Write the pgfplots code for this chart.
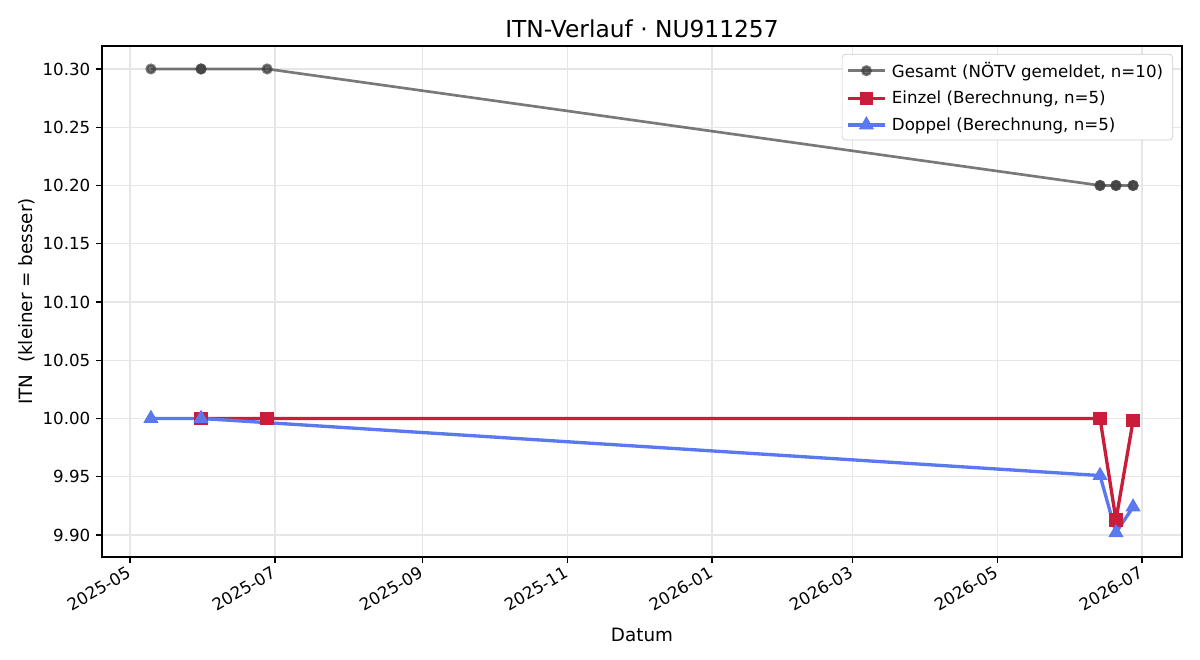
\documentclass[border=0pt]{standalone}
\usepackage{pgfplots}
\pgfplotsset{compat=1.18}
\usepackage{fontspec}
\setmainfont{DejaVu Sans}
\definecolor{gesamt}{RGB}{64,64,64}
\definecolor{einzel}{RGB}{200,30,60}
\definecolor{doppel}{RGB}{90,120,240}
\definecolor{gridc}{RGB}{230,230,230}
\begin{document}
\begin{tikzpicture}
\begin{axis}[
  scale only axis, width=648pt, height=306.6pt,
  xmin=108.2, xmax=562.8, ymin=9.8811, ymax=10.3197,
  xtick={120,181,243,304,365,424,485,546},
  xticklabels={2025-05,2025-07,2025-09,2025-11,2026-01,2026-03,2026-05,2026-07},
  xticklabel style={font=\fontsize{10}{12}\selectfont, inner sep=0pt, anchor=north east, xshift=-2.5pt, yshift=-1.5pt, rotate=30},
  ytick={9.90,9.95,10.00,10.05,10.10,10.15,10.20,10.25,10.30},
  yticklabel style={/pgf/number format/fixed, /pgf/number format/fixed zerofill, /pgf/number format/precision=2, font=\fontsize{10}{12}\selectfont},
  /pgf/number format/assume math mode=true,
  grid=major, major grid style={gridc, line width=0.8pt},
  tick pos=left, tick align=outside, major tick length=3.5pt,
  tick style={black, line width=0.8pt},
  axis line style={line width=0.8pt},
  title={ITN-Verlauf · NU911257},
  title style={font=\fontsize{14}{16}\selectfont, yshift=-4.6pt},
  xlabel={Datum}, ylabel={ITN~ (kleiner = besser)},
  label style={font=\fontsize{11}{13}\selectfont},
  xlabel style={yshift=-6.6pt},
  ylabel style={yshift=-2.4pt},
  legend style={at={(rel axis cs:1,1)}, anchor=north east, xshift=-5.4pt, yshift=-4.8pt,
    draw=gray!40, rounded corners=2pt, font=\fontsize{10}{12}\selectfont,
    inner sep=2.5pt, row sep=2.8pt, nodes={inner xsep=3.2pt}},
  legend cell align=left,
  legend image code/.code={\draw[mark repeat=2,mark phase=2] plot coordinates {(0cm,0cm) (0.39cm,0cm) (0.78cm,0cm)};},
]
\addplot[color=gesamt, opacity=0.7, line width=1.6pt, mark=*, mark size=2.5pt, mark options={solid}]
 coordinates {(128.8,10.30) (149.9,10.30) (149.9,10.30) (177.7,10.30) (528.3,10.20) (528.3,10.20) (535,10.20) (535,10.20) (542.2,10.20) (542.2,10.20)};
\addlegendentry{Gesamt (NÖTV gemeldet, n=10)}
\addplot[color=einzel, line width=2pt, mark=square*, mark size=3pt]
 coordinates {(149.9,10.00) (177.7,10.00) (528.3,10.00) (535,9.913) (542.2,9.998)};
\addlegendentry{Einzel (Berechnung, n=5)}
\addplot[color=doppel, line width=2pt, mark=triangle*, mark size=3.3pt]
 coordinates {(128.8,10.00) (149.9,10.00) (528.3,9.951) (535,9.902) (542.2,9.924)};
\addlegendentry{Doppel (Berechnung, n=5)}
\end{axis}
\path (-61.2pt,-61.8pt) rectangle (658.8pt,334.2pt);
\end{tikzpicture}
\end{document}
